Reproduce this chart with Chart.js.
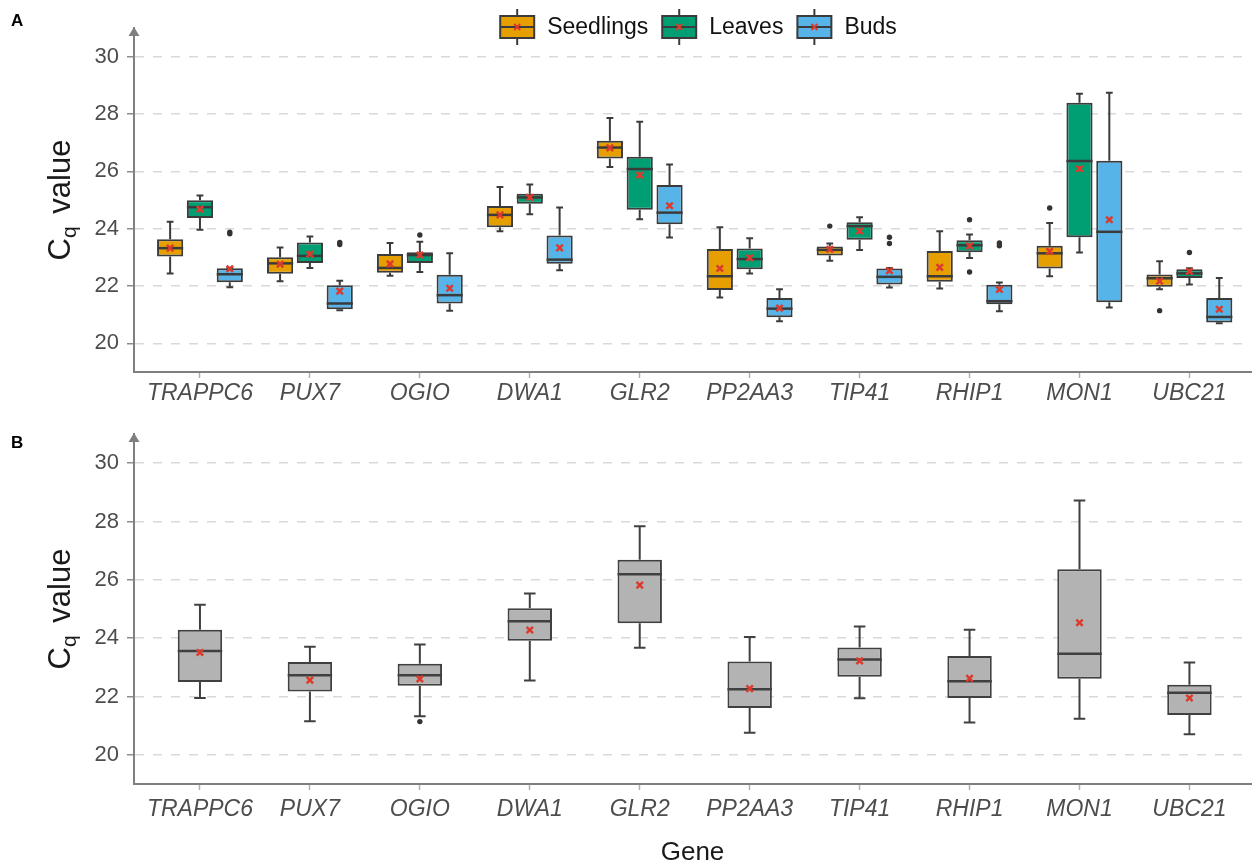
<!DOCTYPE html>
<html>
<head>
<meta charset="utf-8">
<script src="https://cdn.jsdelivr.net/npm/chart.js@4.4.1/dist/chart.umd.min.js"></script>
<style>
  html, body { margin: 0; padding: 0; background: #fff; }
  #wrap { position: relative; width: 1258px; height: 866px; }
  .panel { position: absolute; left: 0; width: 1258px; }
  #panelA { top: 0; height: 410px; }
  #panelB { top: 410px; height: 456px; }
</style>
</head>
<body>
<div id="wrap">
  <div class="panel" id="panelA"><canvas id="boxA"></canvas></div>
  <div class="panel" id="panelB"><canvas id="boxB"></canvas></div>
</div>
<script>
const genes = ["TRAPPC6", "PUX7", "OGIO", "DWA1", "GLR2", "PP2AA3", "TIP41", "RHIP1", "MON1", "UBC21"];
const yTicks = [20, 22, 24, 26, 28, 30];

// each box: [lower whisker, Q1, median, Q3, upper whisker]
const seedlingsBox = [
  [22.44, 23.03, 23.32, 23.63, 24.24],
  [22.17, 22.43, 22.79, 23.00, 23.34],
  [22.36, 22.46, 22.63, 23.12, 23.50],
  [23.91, 24.05, 24.48, 24.79, 25.45],
  [26.15, 26.45, 26.83, 27.07, 27.86],
  [21.60, 21.86, 22.34, 23.29, 24.05],
  [22.88, 23.06, 23.26, 23.38, 23.48],
  [21.91, 22.15, 22.34, 23.22, 23.91],
  [22.34, 22.61, 23.14, 23.40, 24.20],
  [21.89, 21.97, 22.27, 22.40, 22.86]
];
const seedlingsMean = [23.32, 22.76, 22.77, 24.48, 26.82, 22.61, 23.28, 22.65, 23.21, 22.17];
const seedlingsOut = [[], [], [], [], [], [], [24.09], [], [24.72], [21.14]];

const leavesBox = [
  [23.96, 24.37, 24.75, 24.99, 25.16],
  [22.63, 22.80, 23.05, 23.52, 23.73],
  [22.49, 22.80, 23.08, 23.18, 23.54],
  [24.50, 24.87, 25.09, 25.22, 25.54],
  [24.33, 24.66, 26.08, 26.51, 27.73],
  [22.44, 22.58, 22.94, 23.31, 23.67],
  [23.26, 23.61, 24.09, 24.22, 24.40],
  [22.98, 23.18, 23.42, 23.60, 23.80],
  [23.17, 23.70, 26.36, 28.39, 28.71],
  [22.05, 22.28, 22.44, 22.58, 22.62]
];
const leavesMean = [24.68, 23.11, 23.08, 25.09, 25.87, 22.98, 23.92, 23.40, 26.09, 22.51];
const leavesOut = [[], [], [23.78], [], [], [], [], [24.31, 22.49], [], [23.17]];

const budsBox = [
  [21.96, 22.13, 22.41, 22.62, 22.64],
  [21.15, 21.19, 21.39, 22.03, 22.18],
  [21.14, 21.39, 21.68, 22.39, 23.14],
  [22.55, 22.78, 22.92, 23.76, 24.74],
  [23.69, 24.15, 24.56, 25.52, 26.24],
  [20.77, 20.91, 21.21, 21.58, 21.89],
  [21.95, 22.05, 22.32, 22.61, 22.63],
  [21.12, 21.36, 21.47, 22.04, 22.12],
  [21.25, 21.43, 23.89, 26.37, 28.74],
  [20.70, 20.73, 20.92, 21.58, 22.28]
];
const budsMean = [22.60, 21.82, 21.92, 23.33, 24.80, 21.23, 22.53, 21.88, 24.31, 21.19];
const budsOut = [[23.82, 23.88], [23.45, 23.52], [], [], [], [], [23.48, 23.70], [23.40, 23.50], [], []];

const allBox = [
  [21.95, 22.50, 23.56, 24.29, 25.15],
  [21.15, 22.17, 22.73, 23.18, 23.71],
  [21.32, 22.37, 22.73, 23.12, 23.78],
  [22.55, 23.91, 24.58, 25.03, 25.53],
  [23.67, 24.51, 26.19, 26.69, 27.84],
  [20.76, 21.61, 22.25, 23.20, 24.04],
  [21.94, 22.68, 23.27, 23.68, 24.40],
  [21.11, 21.95, 22.52, 23.39, 24.29],
  [21.24, 22.61, 23.47, 26.36, 28.72],
  [20.71, 21.37, 22.13, 22.40, 23.17]
];
const allMean = [23.51, 22.56, 22.60, 24.28, 25.82, 22.27, 23.22, 22.62, 24.53, 21.95];
const allOut = [[], [], [21.14], [], [], [], [], [], [], []];

const FONT = '"Liberation Sans", Arial, sans-serif';
const groupPct = 0.814;          // share of a gene slot used by the 3 boxes
const shift = groupPct / 3;      // distance between grouped boxes (gene units)

function boxData(stats) {
  return stats.map((s, i) => ({ x: i + 1, y: [s[1], s[3]] }));
}
function meanData(means, dx) {
  return means.map((m, i) => ({ x: i + 1 + dx, y: m }));
}
function outData(outs, dx) {
  const pts = [];
  outs.forEach((list, i) => list.forEach(v => pts.push({ x: i + 1 + dx, y: v })));
  return pts;
}
function boxSet(label, stats, color, border, catPct, barPct) {
  return {
    type: "bar", label: label, data: boxData(stats), stats: stats,
    backgroundColor: color, borderColor: border, borderWidth: 2, borderSkipped: false,
    categoryPercentage: catPct, barPercentage: barPct, order: 2
  };
}
function meanSet(means, dx) {
  return {
    type: "scatter", data: meanData(means, dx), pointStyle: "crossRot",
    radius: 4.5, borderWidth: 2.5, borderColor: "#dc3a2c", backgroundColor: "#dc3a2c", order: 1
  };
}
function outSet(outs, dx) {
  return {
    type: "scatter", data: outData(outs, dx), pointStyle: "circle",
    radius: 2.7, borderWidth: 0, backgroundColor: "#333333", order: 1
  };
}

/* whiskers, caps and median line for each box */
const whiskerPlugin = {
  id: "whiskers",
  afterDatasetDraw(chart, args) {
    const ds = chart.data.datasets[args.index];
    if (!ds.stats) return;
    const y = chart.scales.y;
    const ctx = chart.ctx;
    ctx.save();
    ctx.strokeStyle = ds.borderColor;
    args.meta.data.forEach((bar, i) => {
      const p = ds.stats[i].map(v => y.getPixelForValue(v));
      const half = bar.width / 2;
      const cap = bar.width * 0.13;
      ctx.lineWidth = 2;
      ctx.beginPath();
      ctx.moveTo(bar.x, p[1]); ctx.lineTo(bar.x, p[0]);
      ctx.moveTo(bar.x, p[3]); ctx.lineTo(bar.x, p[4]);
      ctx.moveTo(bar.x - cap, p[0]); ctx.lineTo(bar.x + cap, p[0]);
      ctx.moveTo(bar.x - cap, p[4]); ctx.lineTo(bar.x + cap, p[4]);
      ctx.stroke();
      ctx.lineWidth = 2.5;
      ctx.beginPath();
      ctx.moveTo(bar.x - half, p[2]); ctx.lineTo(bar.x + half, p[2]);
      ctx.stroke();
    });
    ctx.restore();
  }
};

/* axis arrow, panel letter, y title and legend */
const framePlugin = {
  id: "frame",
  afterDraw(chart, args, opts) {
    const ctx = chart.ctx;
    const a = chart.chartArea;
    ctx.save();
    ctx.fillStyle = "#7f7f7f";
    ctx.beginPath();
    ctx.moveTo(a.left - 5.5, a.top + 8);
    ctx.lineTo(a.left, a.top - 1);
    ctx.lineTo(a.left + 5.5, a.top + 8);
    ctx.closePath();
    ctx.fill();

    ctx.fillStyle = "#000";
    ctx.font = "bold 17px " + FONT;
    ctx.textBaseline = "top";
    ctx.textAlign = "left";
    ctx.fillText(opts.letter, 11, opts.letterY);

    // C_q value
    ctx.save();
    ctx.translate(70, (a.top + a.bottom) / 2);
    ctx.rotate(-Math.PI / 2);
    ctx.fillStyle = "#1a1a1a";
    ctx.textBaseline = "alphabetic";
    const big = "31px " + FONT, small = "21px " + FONT;
    ctx.font = big;
    const wC = ctx.measureText("C").width;
    const wRest = ctx.measureText(" value").width;
    ctx.font = small;
    const wq = ctx.measureText("q").width;
    let x = -(wC + wq + 4 + wRest) / 2;
    ctx.font = big;
    ctx.fillText("C", x, 0);
    ctx.font = small;
    ctx.fillText("q", x + wC, 6);
    ctx.font = big;
    ctx.fillText(" value", x + wC + wq + 4, 0);
    ctx.restore();

    if (opts.legend) {
      const items = chart.data.datasets.filter(d => d.stats);
      const boxW = 34, boxH = 22, gap = 13, itemGap = 14, cy = 27;
      ctx.font = "23px " + FONT;
      const widths = items.map(d => boxW + gap + ctx.measureText(d.label).width);
      const total = widths.reduce((s, w) => s + w, 0) + itemGap * (items.length - 1);
      let lx = (a.left + a.right) / 2 + 6 - total / 2;
      items.forEach((d, i) => {
        ctx.strokeStyle = d.borderColor;
        ctx.lineWidth = 2;
        ctx.beginPath();
        ctx.moveTo(lx + boxW / 2, cy - 18); ctx.lineTo(lx + boxW / 2, cy + 18);
        ctx.stroke();
        ctx.fillStyle = d.backgroundColor;
        ctx.fillRect(lx, cy - boxH / 2, boxW, boxH);
        ctx.strokeRect(lx, cy - boxH / 2, boxW, boxH);
        ctx.beginPath();
        ctx.moveTo(lx, cy); ctx.lineTo(lx + boxW, cy);
        ctx.stroke();
        ctx.strokeStyle = "#dc3a2c";
        ctx.lineWidth = 2;
        ctx.beginPath();
        ctx.moveTo(lx + boxW / 2 - 3, cy - 3); ctx.lineTo(lx + boxW / 2 + 3, cy + 3);
        ctx.moveTo(lx + boxW / 2 - 3, cy + 3); ctx.lineTo(lx + boxW / 2 + 3, cy - 3);
        ctx.stroke();
        ctx.fillStyle = "#111";
        ctx.textBaseline = "middle";
        ctx.fillText(d.label, lx + boxW + gap, cy + 1);
        lx += widths[i] + itemGap;
      });
    }
    ctx.restore();
  }
};

function makeOptions(cfg) {
  return {
    responsive: true,
    maintainAspectRatio: false,
    animation: false,
    layout: { padding: { top: cfg.top, left: 0, right: 0, bottom: 0 } },
    scales: {
      x: {
        type: "linear",
        offset: false,
        min: 0.4,
        max: 10.56,
        afterBuildTicks: s => { s.ticks = genes.map((g, i) => ({ value: i + 1 })); },
        afterFit: s => { s.height = cfg.xHeight; },
        ticks: {
          callback: v => genes[v - 1],
          color: "#4d4d4d",
          padding: cfg.tickPad,
          autoSkip: false,
          maxRotation: 0,
          font: { family: FONT, size: 23, style: "italic" }
        },
        grid: { offset: false, drawOnChartArea: false, tickLength: 6, tickColor: "#b0b0b0", tickWidth: 1.5 },
        border: { color: "#7f7f7f", width: 2 },
        title: {
          display: cfg.gene,
          text: "Gene",
          color: "#1a1a1a",
          padding: { top: 0, bottom: 0 },
          font: { family: FONT, size: 26, lineHeight: 1 }
        }
      },
      y: {
        min: 19,
        max: 31,
        afterBuildTicks: s => { s.ticks = yTicks.map(v => ({ value: v })); },
        afterFit: s => { s.width = 134; },
        ticks: { color: "#4d4d4d", padding: 8, font: { family: FONT, size: 22 } },
        grid: { color: "#d9d9d9", lineWidth: 1.5, tickLength: 7, tickColor: "#8c8c8c", tickWidth: 1.5 },
        border: { color: "#7f7f7f", width: 2, dash: [9, 9] }
      }
    },
    plugins: {
      legend: { display: false },
      tooltip: { enabled: false },
      frame: { letter: cfg.letter, letterY: cfg.letterY, legend: cfg.legend }
    }
  };
}

/* PANEL A */
new Chart(document.getElementById("boxA"), {
  type: "bar",
  data: {
    datasets: [
      boxSet("Seedlings", seedlingsBox, "#E69F00", "#3b3b3b", groupPct, 0.877),
      boxSet("Leaves", leavesBox, "#009E73", "#3b3b3b", groupPct, 0.877),
      boxSet("Buds", budsBox, "#56B4E9", "#3b3b3b", groupPct, 0.877),
      meanSet(seedlingsMean, -shift),
      meanSet(leavesMean, 0),
      meanSet(budsMean, shift),
      outSet(seedlingsOut, -shift),
      outSet(leavesOut, 0),
      outSet(budsOut, shift)
    ]
  },
  options: makeOptions({ top: 28, xHeight: 38, tickPad: 2, gene: false, letter: "A", letterY: 13, legend: true }),
  plugins: [whiskerPlugin, framePlugin]
});

/* PANEL B */
new Chart(document.getElementById("boxB"), {
  type: "bar",
  data: {
    datasets: [
      boxSet("All", allBox, "#b3b3b3", "#404040", 1, 0.404),
      meanSet(allMean, 0),
      outSet(allOut, 0)
    ]
  },
  options: makeOptions({ top: 24, xHeight: 82, tickPad: 6, gene: true, letter: "B", letterY: 25, legend: false }),
  plugins: [whiskerPlugin, framePlugin]
});
</script>
</body>
</html>
